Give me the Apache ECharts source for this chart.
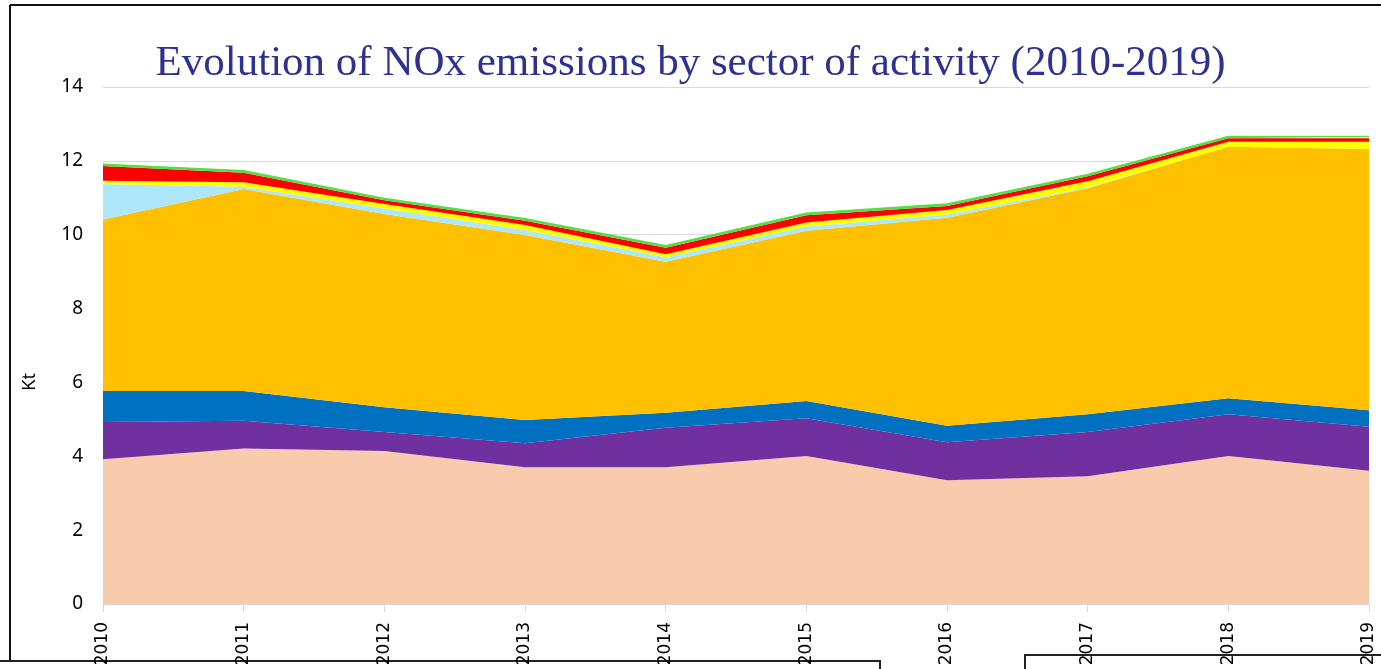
<!DOCTYPE html>
<html>
<head>
<meta charset="utf-8">
<script src="https://cdn.jsdelivr.net/npm/echarts@6/dist/echarts.min.js"></script>
<style>
  html, body { margin: 0; padding: 0; background: #fff; }
  #chart { width: 1381px; height: 669px; }
</style>
</head>
<body>
<div id="chart"></div>
<script>
// années
const years = ['2010', '2011', '2012', '2013', '2014', '2015', '2016', '2017', '2018', '2019'];
// couches empilées, du bas vers le haut (kt)
const peach = [3.92, 4.21, 4.14, 3.70, 3.70, 4.01, 3.35, 3.46, 4.01, 3.61];
const purple = [1.01, 0.75, 0.52, 0.65, 1.07, 1.02, 1.03, 1.20, 1.13, 1.19];
const blue = [0.84, 0.81, 0.67, 0.63, 0.41, 0.47, 0.45, 0.48, 0.43, 0.45];
const orange = [4.64, 5.47, 5.23, 5.01, 4.09, 4.61, 5.63, 6.12, 6.81, 7.07];
const lightBlue = [0.96, 0.06, 0.15, 0.14, 0.12, 0.11, 0.09, 0.02, 0.00, 0.00];
const yellow = [0.09, 0.12, 0.12, 0.13, 0.08, 0.11, 0.12, 0.17, 0.14, 0.20];
const red = [0.40, 0.26, 0.10, 0.12, 0.18, 0.20, 0.11, 0.13, 0.09, 0.09];
const green = [0.05, 0.05, 0.05, 0.05, 0.05, 0.05, 0.05, 0.05, 0.05, 0.05];

const layers = [
  { name: 'Sector 1', data: peach, color: '#F8CBAD' },
  { name: 'Sector 2', data: purple, color: '#7030A0' },
  { name: 'Sector 3', data: blue, color: '#0070C0' },
  { name: 'Sector 4', data: orange, color: '#FFC000' },
  { name: 'Sector 5', data: lightBlue, color: '#AEE7FC' },
  { name: 'Sector 6', data: yellow, color: '#FFFF00' },
  { name: 'Sector 7', data: red, color: '#FF0000' },
  { name: 'Sector 8', data: green, color: '#55DD44' }
];

const mychart = echarts.init(document.getElementById('chart'), null, { renderer: 'canvas' });

const options = {
  animation: false,
  backgroundColor: '#fff',
  title: {
    text: 'Evolution of NOx emissions by sector of activity (2010-2019)',
    left: 'center',
    top: 37,
    textStyle: {
      fontFamily: 'Liberation Serif',
      fontWeight: 'normal',
      fontSize: 43,
      color: '#2E3192'
    }
  },
  grid: {
    left: 103,
    right: 12,
    top: 87,
    bottom: 65
  },
  xAxis: {
    type: 'category',
    data: years,
    boundaryGap: false,
    axisLine: { lineStyle: { color: '#D9D9D9', width: 1 } },
    axisTick: { show: true, length: 8, lineStyle: { color: '#D9D9D9' } },
    axisLabel: {
      rotate: 90,
      margin: 18,
      fontFamily: 'DejaVu Sans',
      fontSize: 17,
      color: '#000'
    }
  },
  yAxis: {
    type: 'value',
    min: 0,
    max: 14,
    interval: 2,
    axisLine: { show: false },
    axisTick: { show: false },
    splitLine: { lineStyle: { color: '#D9D9D9', width: 1 } },
    axisLabel: {
      margin: 20,
      fontFamily: 'Noto Sans',
      fontSize: 19,
      color: '#000'
    }
  },
  series: layers.map((l) => ({
    name: l.name,
    type: 'line',
    stack: 'total',
    data: l.data,
    symbol: 'none',
    smooth: false,
    lineStyle: { width: l.name === 'Sector 8' ? 1.5 : 0, color: l.color },
    areaStyle: { color: l.color, opacity: 1 },
    itemStyle: { color: l.color }
  })),
  graphic: [
    {
      type: 'text',
      left: 21,
      top: 373,
      rotation: Math.PI / 2,
      style: {
        text: 'Kt',
        fontFamily: 'Noto Sans',
        fontSize: 18,
        fill: '#000'
      }
    },
    // cadre
    {
      type: 'line',
      shape: { x1: 10, y1: 5, x2: 1381, y2: 5 },
      style: { stroke: '#111', lineWidth: 2 }
    },
    {
      type: 'line',
      shape: { x1: 10, y1: 5, x2: 10, y2: 669 },
      style: { stroke: '#111', lineWidth: 2 }
    },
    // boîtes en bas
    {
      type: 'rect',
      shape: { x: -2, y: 661, width: 882, height: 20 },
      style: { fill: '#fff', stroke: '#222', lineWidth: 2 }
    },
    {
      type: 'rect',
      shape: { x: 1025, y: 655, width: 400, height: 30 },
      style: { fill: '#fff', stroke: '#222', lineWidth: 2 }
    }
  ]
};

mychart.setOption(options);
</script>
</body>
</html>
